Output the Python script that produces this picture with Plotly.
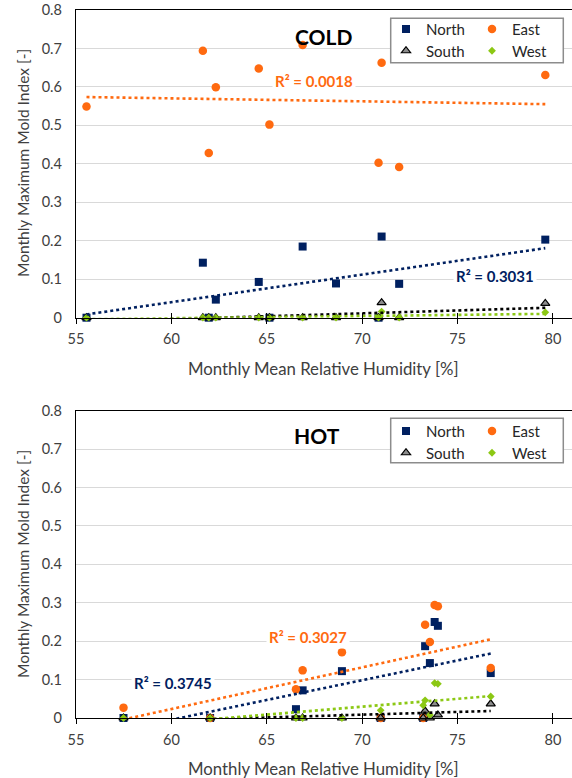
import numpy as np
import plotly.graph_objects as go

# ---------------- data ----------------
cold_rh = [55.55, 61.65, 61.96, 62.33, 64.58, 65.14, 66.88, 68.63, 70.86, 71.02, 71.94, 79.60]
cold_north = [0.0, 0.143, 0.0, 0.047, 0.093, 0.0, 0.185, 0.089, 0.0, 0.211, 0.088, 0.203]
cold_east = [0.549, 0.694, 0.428, 0.599, 0.648, 0.502, 0.709, None, 0.403, 0.663, 0.392, 0.631]
cold_south = [0.0, 0.0, 0.0, 0.0, 0.0, 0.0, 0.0, 0.0, 0.0, 0.039, 0.0, 0.037]
cold_west = [0.0, 0.0, 0.0, 0.0, 0.0, 0.0, 0.0, 0.0, 0.0, 0.016, 0.0, 0.014]

hot_rh = [57.49, 62.03, 66.53, 66.88, 68.94, 70.97, 73.20, 73.30, 73.55, 73.80, 73.97, 76.74]
hot_north = [0.0, 0.0, 0.023, 0.072, 0.122, 0.0, 0.0, 0.187, 0.143, 0.250, 0.240, 0.117]
hot_east = [0.027, 0.0, 0.075, 0.124, 0.171, 0.0, 0.0, 0.243, 0.198, 0.294, 0.291, 0.130]
hot_south = [0.0, 0.0, 0.0, 0.0, 0.0, 0.0, 0.0, 0.018, 0.0, 0.037, 0.008, 0.037]
hot_west = [0.0, 0.0, 0.0, 0.0, 0.0, 0.020, 0.033, 0.046, 0.008, 0.091, 0.089, 0.056]

series_names = ["North", "East", "South", "West"]
x_ticks = [55, 60, 65, 70, 75, 80]
y_ticks = [0, 0.1, 0.2, 0.3, 0.4, 0.5, 0.6, 0.7, 0.8]
y_ticklabels = ["0", "0.1", "0.2", "0.3", "0.4", "0.5", "0.6", "0.7", "0.8"]
r2_labels = {"cold_east": "R² = 0.0018", "cold_north": "R² = 0.3031",
             "hot_east": "R² = 0.3027", "hot_north": "R² = 0.3745"}

# ---------------- styles ----------------
NAVY = "#002060"
ORANGE = "#FF6A10"
GRAY = "#8C8C8C"
GREEN = "#8CC814"
FONT = "Lato"
TXT = "#404040"

marker_styles = {
    "North": dict(symbol="square", size=8, color=NAVY),
    "East": dict(symbol="circle", size=8.5, color=ORANGE),
    "South": dict(symbol="triangle-up", size=8, color=GRAY, line=dict(color="black", width=1.2)),
    "West": dict(symbol="diamond", size=6, color=GREEN),
}
trend_colors = {"North": NAVY, "East": ORANGE, "South": "black", "West": GREEN}

W, H = 572, 778
ML, MR, MT, MB = 76, 0, 10, 60
PW, PH = W - ML - MR, H - MT - MB


def px_x(p):
    return (p - ML) / PW


def px_y(p):
    return (H - MB - p) / PH


fig = go.Figure()


def fit(xs, ys):
    pts = [(a, b) for a, b in zip(xs, ys) if b is not None]
    xa = np.array([p[0] for p in pts])
    ya = np.array([p[1] for p in pts])
    k, c = np.polyfit(xa, ya, 1)
    xl = np.array([xa.min(), xa.max()])
    return xl, k * xl + c


# legend ids: first row (North, East), second row (South, West)
panels = [
    ("x", "y", ["legend", "legend", "legend3", "legend3"], cold_rh,
     [cold_north, cold_east, cold_south, cold_west]),
    ("x2", "y2", ["legend2", "legend2", "legend4", "legend4"], hot_rh,
     [hot_north, hot_east, hot_south, hot_west]),
]

for xa, ya, lgs, xs, vals in panels:
    for name, ys, lg in zip(series_names, vals, lgs):
        fig.add_trace(go.Scatter(
            x=xs, y=ys, mode="markers", name=name, xaxis=xa, yaxis=ya,
            legend=lg, marker=marker_styles[name], cliponaxis=False,
        ))
    for name, ys in zip(series_names, vals):
        xl, yl = fit(xs, ys)
        fig.add_trace(go.Scatter(
            x=xl, y=yl, mode="lines", xaxis=xa, yaxis=ya, showlegend=False,
            line=dict(color=trend_colors[name], width=2.6, dash="dot"),
            hoverinfo="skip",
        ))

# overlay axes for the crossing tick marks
for ov, base in [("x3", "y"), ("x4", "y2")]:
    fig.add_trace(go.Scatter(x=[None], y=[None], xaxis=ov, yaxis=base, showlegend=False))

top_dom = [px_y(317.7), 1.0]
bot_dom = [0.0, px_y(410.7)]

xcommon = dict(range=[55, 81], tickvals=x_ticks, ticktext=[str(v) for v in x_ticks],
               showgrid=False, zeroline=False, showline=True, linecolor="black", linewidth=1.3,
               mirror=True, ticks="outside", ticklen=5, tickwidth=1.2, tickcolor="black",
               tickfont=dict(family=FONT, size=14.5, color=TXT), ticklabelstandoff=3,
               fixedrange=True)
ycommon = dict(range=[0, 0.8], tickvals=y_ticks, ticktext=y_ticklabels,
               showgrid=True, gridcolor="#D9D9D9", gridwidth=1.3, zeroline=False,
               showline=True, linecolor="black", linewidth=1.3, ticks="",
               tickfont=dict(family=FONT, size=14.5, color=TXT), ticklabelstandoff=10,
               fixedrange=True)
ovcommon = dict(range=[55, 81], tickvals=x_ticks, showticklabels=False, showgrid=False,
                zeroline=False, showline=False, ticks="inside", ticklen=5, tickwidth=1.2,
                tickcolor="black", fixedrange=True)

fig.update_layout(
    width=W, height=H,
    margin=dict(l=ML, r=MR, t=MT, b=MB),
    paper_bgcolor="white", plot_bgcolor="white",
    font=dict(family=FONT, color=TXT),
    xaxis=dict(xcommon, anchor="y", domain=[0, 1]),
    yaxis=dict(ycommon, anchor="x", domain=top_dom),
    xaxis2=dict(xcommon, anchor="y2", domain=[0, 1]),
    yaxis2=dict(ycommon, anchor="x2", domain=bot_dom),
    xaxis3=dict(ovcommon, overlaying="x", anchor="y"),
    xaxis4=dict(ovcommon, overlaying="x2", anchor="y2"),
    showlegend=True,
)

legend_common = dict(orientation="h", xanchor="left", yanchor="top",
                     bgcolor="rgba(0,0,0,0)", borderwidth=0,
                     font=dict(family=FONT, size=15, color="#262626"),
                     entrywidth=41, entrywidthmode="pixels", itemwidth=30,
                     tracegroupgap=0)
LX = px_x(386)
fig.update_layout(
    legend=dict(legend_common, x=LX, y=px_y(12.8)),
    legend3=dict(legend_common, x=LX, y=px_y(34.5)),
    legend2=dict(legend_common, x=LX, y=px_y(414.8)),
    legend4=dict(legend_common, x=LX, y=px_y(436.5)),
)

# legend frames (white filled boxes above the data, like the original)
shapes = []
for top, bot in [(18.3, 62.7), (418.3, 462.7)]:
    shapes.append(dict(type="rect", xref="paper", yref="paper",
                       x0=px_x(390.7), x1=px_x(563.3), y0=px_y(bot), y1=px_y(top),
                       line=dict(color="#8C8C8C", width=1.5), fillcolor="white",
                       layer="above"))
fig.update_layout(shapes=shapes)

ann = []


def add_text(text, cx, cy, size, color, bold=False, bg=None, angle=0, pad=2):
    ann.append(dict(
        text=f"<b>{text}</b>" if bold else text, x=px_x(cx), y=px_y(cy),
        xref="paper", yref="paper", showarrow=False, xanchor="center", yanchor="middle",
        font=dict(family=FONT, size=size, color=color), textangle=angle,
        bgcolor=bg, borderpad=pad,
    ))


add_text("COLD", 323.5, 36.8, 21, "black", bold=True)
add_text("HOT", 317.0, 435.0, 21, "black", bold=True)
add_text(r2_labels["cold_east"], 314.0, 80.7, 15, ORANGE, bold=True, bg="white")
add_text(r2_labels["cold_north"], 495.0, 276.0, 15, NAVY, bold=True, bg="white")
add_text(r2_labels["hot_east"], 308.3, 636.7, 15, ORANGE, bold=True, bg="white")
add_text(r2_labels["hot_north"], 173.3, 683.3, 15, NAVY, bold=True, bg="white")

add_text("Monthly Mean Relative Humidity [%]", 323.5, 368.0, 16.8, TXT)
add_text("Monthly Mean Relative Humidity [%]", 323.5, 768.0, 16.8, TXT)
add_text("Monthly Maximum Mold Index [-]", 23.0, 163.0, 15.5, TXT, angle=-90)
add_text("Monthly Maximum Mold Index [-]", 23.0, 564.0, 15.5, TXT, angle=-90)

fig.update_layout(annotations=ann)

fig.write_html("out.html", config={"displayModeBar": False},
               post_script="document.body.style.margin='0';document.body.style.padding='0';document.body.style.overflow='hidden';")
